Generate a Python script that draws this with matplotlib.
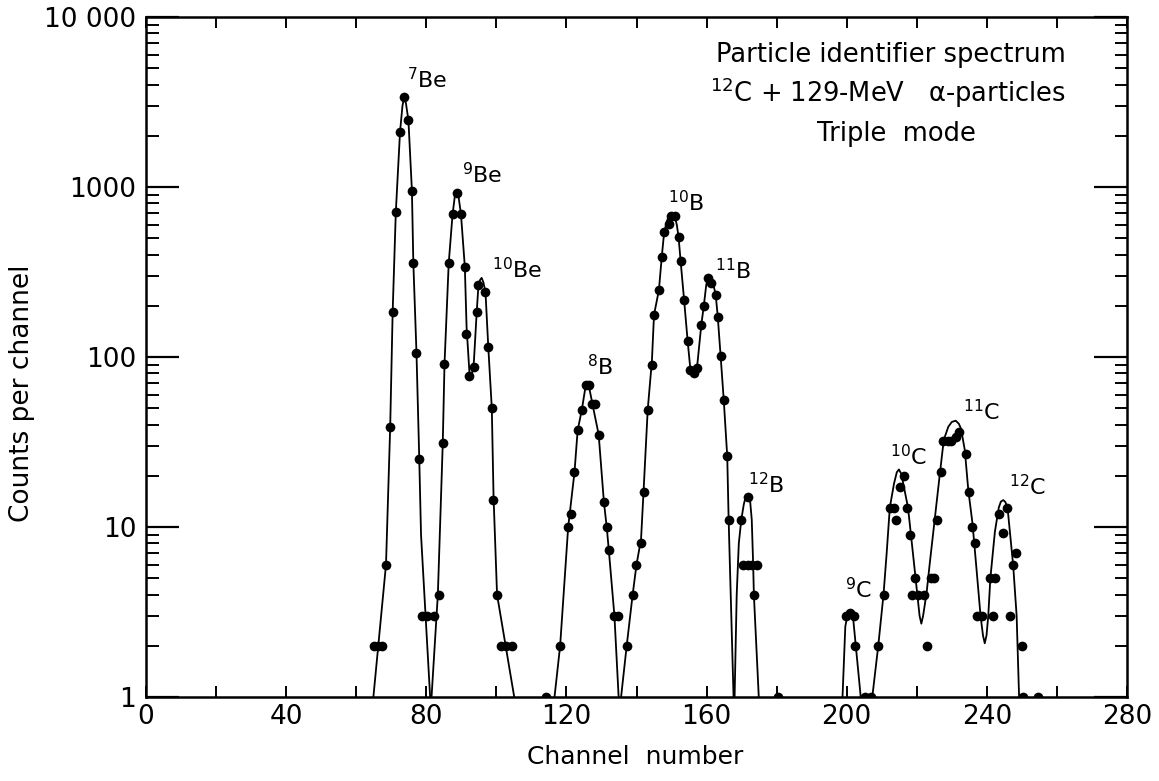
import matplotlib
matplotlib.use('Agg')
import matplotlib.pyplot as plt
from matplotlib.ticker import FixedLocator, FixedFormatter, MultipleLocator, LogLocator, NullFormatter

plt.rcParams['font.family'] = 'DejaVu Sans'
plt.rcParams['mathtext.default'] = 'regular'

# measured points: channel number and counts per channel
channels = [65.2, 66.3, 67.4, 68.5, 69.7, 70.4, 71.3, 72.5, 73.7, 74.9, 75.9, 76.3, 77.2, 78.0,
            78.9, 80.2, 82.3,
            83.5, 84.7, 85.1, 86.4, 87.5, 88.7, 89.9, 91.0, 91.4, 92.3, 93.7, 94.4, 94.9, 96.9,
            97.7, 98.7, 99.1, 100.1, 101.3, 102.7, 104.4,
            118.2, 120.5, 121.2, 122.3, 123.2, 124.4, 125.5, 126.5, 127.4, 128.2, 129.2, 130.7,
            131.5, 132.1, 133.7, 134.6,
            137.2, 138.9, 139.9, 141.3, 142.0, 143.2, 144.4, 145.0, 146.4, 147.2, 147.9, 149.2,
            149.9, 150.9, 152.0, 152.6, 153.6, 154.6, 155.2, 156.4, 157.4, 158.5, 159.2, 160.4,
            161.3, 162.6, 163.2, 164.0, 164.9, 165.9, 166.3,
            169.9, 171.8, 170.4, 171.7, 173.0, 174.3, 173.5,
            199.8, 200.9, 202.1, 202.4,
            209.0, 210.5, 212.3, 213.4, 214.2, 215.1, 216.3, 217.2, 218.0, 218.6, 219.6, 220.4,
            222.0, 223.0, 224.1, 224.9, 225.8, 226.8, 227.5, 228.9, 229.9, 231.1, 232.0, 234.0,
            234.9, 235.8, 236.6, 237.1, 238.5, 240.9, 241.8, 242.3, 243.4, 244.7, 245.8, 246.6,
            247.5, 248.3, 249.9]
counts = [2, 2, 2, 6, 39, 184, 710, 2100, 3370, 2470, 950, 359, 106, 25,
          3, 3, 3,
          4, 31, 91, 356, 691, 926, 691, 340, 136, 77, 87, 185, 266, 240,
          114, 50, 14.5, 4, 2, 2, 2,
          2, 10, 12, 21, 37, 49, 68, 68, 53, 53, 35, 14,
          10, 7.3, 3, 3,
          2, 4, 6, 8, 16, 49, 90, 177, 248, 387, 543, 604,
          675, 675, 510, 365, 215, 124, 84, 80, 86, 155, 199, 290,
          273, 233, 172, 102, 56, 26, 11,
          11, 15, 6, 6, 6, 6, 4,
          3, 3.1, 3, 2,
          2, 4, 13, 13, 11, 17.3, 20, 13, 9, 4, 5, 4,
          4, 2, 5, 5, 11, 21, 32, 32, 32, 34, 36, 27,
          16, 10, 8, 3, 3, 5, 3, 5, 12, 9.2, 13, 3,
          6, 7, 2]

# single counts sitting on the axis
floor_channels = [114.2, 180.4, 205.1, 207.0, 250.4, 254.5]
floor_counts = [1, 1, 1, 1, 1, 1]

# hand drawn curves, one per segment
fit_be7_x = [64.9, 68.5, 69.7, 70.4, 71.3, 72.5, 73.2, 73.7, 74.2, 74.9, 75.9, 76.3, 77.2, 78.0, 78.5, 81.1]
fit_be7_y = [1, 6, 39, 184, 710, 2100, 3000, 3400, 3100, 2470, 950, 359, 106, 25, 9, 1]

fit_be9_x = [81.5, 83.3, 84.7, 85.2, 86.4, 87.5, 88.2, 88.7, 89.2, 89.9, 91.0, 91.5, 92.3, 92.9,
             93.6, 94.4, 94.9, 95.4, 95.8, 96.3, 96.9, 97.7, 98.7, 99.2, 100.2, 105.1]
fit_be9_y = [1, 4, 31, 91, 356, 691, 900, 950, 880, 691, 340, 150, 82, 76,
             95, 185, 266, 285, 292, 275, 240, 114, 50, 15, 4, 1]

fit_b8_x = [116.6, 118.2, 120.5, 122.3, 123.2, 124.4, 125.3, 125.9, 126.5, 127.5, 129.2, 130.7,
            131.5, 132.1, 133.7, 134.9]
fit_b8_y = [1, 2, 10, 21, 37, 49, 64, 71, 66, 52, 35, 14, 10, 7.3, 3, 1]

fit_b10_x = [135.6, 137.2, 138.9, 140.0, 141.3, 142.0, 143.2, 144.4, 145.0, 146.4, 147.2, 147.9,
             148.8, 149.6, 150.3, 151.0, 151.5, 152.0, 152.6, 153.6, 154.6, 155.3, 156.0, 156.7,
             157.4, 158.5, 159.2, 159.9, 160.5, 161.1, 161.6, 162.6, 163.2, 164.0, 164.9, 165.9,
             166.3, 167.7]
fit_b10_y = [1, 2, 4, 6, 8.5, 16, 49, 95, 177, 248, 387, 543,
             640, 700, 705, 660, 600, 510, 365, 215, 124, 88, 80, 82,
             92, 155, 199, 265, 300, 300, 285, 233, 172, 102, 56, 26,
             11, 1]

fit_b12_x = [168.0, 168.6, 169.2, 169.9, 170.6, 171.2, 171.8, 172.4, 172.9, 173.3, 173.5, 174.9]
fit_b12_y = [1, 4, 8, 11, 13.5, 15.2, 15.6, 14.5, 11, 6, 4, 1]

fit_c9_x = [198.8, 199.6, 200.3, 201.0, 201.7, 202.4, 204.0]
fit_c9_y = [1, 2.6, 3.1, 3.25, 3.1, 2.2, 1]

fit_c_x = [207.3, 209.0, 210.5, 211.4, 212.3, 213.5, 214.3, 214.9, 215.6, 216.5, 217.5, 219.0,
           220.1, 220.8, 221.3, 221.8, 222.8, 223.7, 225.1, 226.6, 227.7, 229.0, 230.0, 231.1,
           232.0, 232.6, 233.7, 234.7, 235.9, 237.0, 238.2, 238.9, 239.4, 239.9, 240.4, 241.0,
           242.3, 243.4, 244.0, 244.7, 245.3, 245.9, 246.9, 247.5, 248.5, 249.2]
fit_c_y = [1, 2, 4, 7, 13, 18, 21, 21.8, 20.5, 16.5, 13, 6.7,
           4.1, 3, 2.7, 3, 4.1, 6.1, 11, 20.7, 32.5, 38.9, 41.5, 42.2,
           40.5, 38, 28.4, 16.5, 10.5, 5.8, 3.0, 2.3, 2.07, 2.3, 3.0, 5,
           9.4, 13, 14.1, 14.4, 14.0, 13, 8, 6, 3, 1]

peak_labels = ['$^{7}$Be', '$^{9}$Be', '$^{10}$Be', '$^{8}$B', '$^{10}$B', '$^{11}$B',
               '$^{12}$B', '$^{9}$C', '$^{10}$C', '$^{11}$C', '$^{12}$C']
label_x = [74.4, 90.3, 98.8, 126.0, 148.9, 162.3, 171.7, 199.4, 212.3, 233.2, 246.4]
label_y = [4290, 1175, 325, 88, 815, 321, 17.7, 4.3, 25.8, 47.9, 17.2]

y_ticks = [1, 10, 100, 1000, 10000]
y_tick_labels = ['1', '10', '100', '1000', '10 000']

fig = plt.figure(figsize=(11.59, 7.81), dpi=100)
ax = fig.add_axes([146 / 1159, 1 - 697 / 781, (1127 - 146) / 1159, (697 - 17) / 781])
ax.set_yscale('log')
ax.set_xlim(0, 280)
ax.set_ylim(1, 10000)

fits = [(fit_be7_x, fit_be7_y), (fit_be9_x, fit_be9_y), (fit_b8_x, fit_b8_y),
        (fit_b10_x, fit_b10_y), (fit_b12_x, fit_b12_y), (fit_c9_x, fit_c9_y), (fit_c_x, fit_c_y)]
for fx, fy in fits:
    ax.plot(fx, fy, color='black', lw=1.3, solid_joinstyle='round')

ax.plot(channels, counts, 'o', color='black', ms=7, mew=0)
ax.plot(floor_channels, floor_counts, 'o', color='black', ms=7, mew=0)

for lab, lx, ly in zip(peak_labels, label_x, label_y):
    ax.text(lx, ly, lab, fontsize=16, ha='left', va='center')

fig.text(891 / 1159, 1 - 55 / 781, 'Particle identifier spectrum', fontsize=18.5, ha='center', va='center')
fig.text(888 / 1159, 1 - 93 / 781, '$^{12}$C + 129-MeV   α-particles', fontsize=18.5, ha='center', va='center')
fig.text(896 / 1159, 1 - 134 / 781, 'Triple  mode', fontsize=18.5, ha='center', va='center')

fig.text(635 / 1159, 1 - 757 / 781, 'Channel  number', fontsize=18, ha='center', va='center')
fig.text(22 / 1159, 1 - 393 / 781, 'Counts per channel', fontsize=19, ha='center', va='center',
         rotation=90)

ax.xaxis.set_major_locator(MultipleLocator(40))
ax.xaxis.set_minor_locator(MultipleLocator(20))
ax.tick_params(axis='x', which='both', direction='in', top=True, length=8, width=1.4,
               labelsize=19, pad=5)
ax.yaxis.set_major_locator(FixedLocator(y_ticks))
ax.yaxis.set_major_formatter(FixedFormatter(y_tick_labels))
ax.yaxis.set_minor_locator(LogLocator(base=10, subs=range(2, 10)))
ax.yaxis.set_minor_formatter(NullFormatter())
ax.tick_params(axis='y', which='major', direction='in', right=True, length=24, width=1.6,
               labelsize=19, pad=7)
ax.tick_params(axis='y', which='minor', direction='in', right=True, length=9, width=1.4)
for s in ax.spines.values():
    s.set_linewidth(1.8)

fig.savefig('out.png', dpi=100)
